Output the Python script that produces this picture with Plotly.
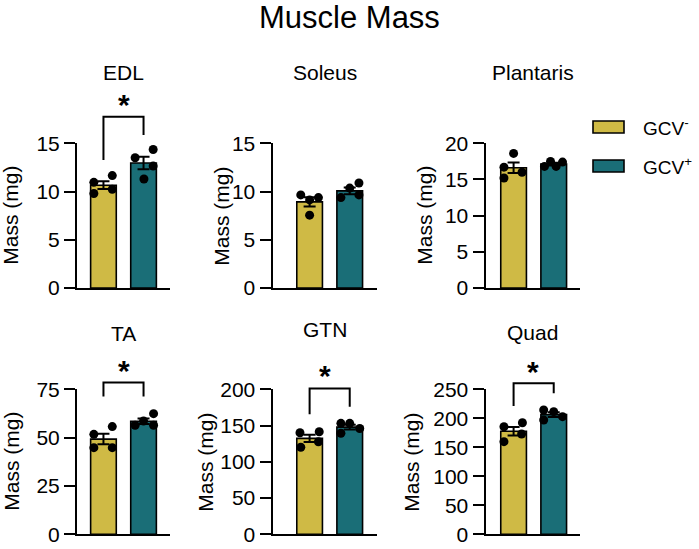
import numpy as np
import plotly.graph_objects as go

W, H = 699, 549

groups = ["GCV<sup>-</sup>", "GCV<sup>+</sup>"]
muscles = ["EDL", "Soleus", "Plantaris", "TA", "GTN", "Quad"]

# muscle mass per mouse (mg)
edl_neg = [10.95, 11.65, 10.24, 9.79]
edl_pos = [13.5, 14.36, 12.64, 11.3]
soleus_neg = [9.65, 9.13, 9.37, 7.55]
soleus_pos = [9.37, 10.36, 10.88, 9.65]
plantaris_neg = [18.6, 16.7, 16.0, 15.2]
plantaris_pos = [16.8, 17.5, 16.8, 17.4]
ta_neg = [51.7, 55.7, 44.8, 44.8]
ta_pos = [56.4, 58.6, 62.4, 56.4]
gtn_neg = [140, 141.5, 127.7, 120]
gtn_pos = [153, 153, 146, 139.3]
quad_neg = [185.5, 192.4, 173, 159.7]
quad_pos = [214.3, 211.4, 202.8, 197]

y_max = [15, 15, 20, 75, 200, 250]
y_step = [5, 5, 5, 25, 50, 50]
signif = [True, False, False, True, True, True]

data = [(edl_neg, edl_pos), (soleus_neg, soleus_pos), (plantaris_neg, plantaris_pos),
        (ta_neg, ta_pos), (gtn_neg, gtn_pos), (quad_neg, quad_pos)]

# --- styling ---
YEL = "#CFBA45"
TEAL = "#1A6E77"
FONT = "Liberation Sans, Arial, sans-serif"

# horizontal scatter of the dots (fraction of bar spacing)
jitter = [
    ([-0.24, 0.22, 0.22, -0.24], [-0.21, 0.24, 0.24, 0.01]),
    ([-0.22, 0, 0.22, 0], [-0.22, 0, 0.23, 0.23]),
    ([0, -0.24, 0.21, -0.24], [-0.23, -0.08, 0.06, 0.22]),
    ([-0.24, 0.22, -0.24, 0.22], [-0.21, 0, 0.25, 0.25]),
    ([-0.24, 0.24, 0.22, -0.22], [-0.22, 0, 0.25, -0.22]),
    ([-0.24, 0.22, 0.2, -0.24], [-0.25, 0, 0.22, -0.25]),
]
# bracket: top, left leg end, right leg end, star height (data units)
brackets = [(17.75, 13.26, 15.87, 19.3), None, None,
            (78.5, 71.3, 71.3, 86.1), (201, 165.5, 176, 222.5), (260.5, 221, 243, 286.5)]

col_px = [(77, 170), (272.5, 377), (485.5, 580)]
col_rng = [(-0.66, 1.66), (-0.925, 1.68), (-0.7, 1.655)]
row_dom = [(0.4754, 0.7390), (0.0268, 0.2909)]
title_py = [73, 73, 73, 333, 329, 332]
ytitle_px = [11, 222, 425, 12, 206, 412]

fig = go.Figure()
annotations = []
shapes = []

for i in range(6):
    row, col = divmod(i, 3)
    ax = "" if i == 0 else str(i + 1)
    neg, pos = data[i]
    for g, (vals, color, jit) in enumerate(zip((neg, pos), (YEL, TEAL), jitter[i])):
        vals = np.array(vals)
        sem = vals.std(ddof=1) / np.sqrt(len(vals))
        fig.add_trace(go.Bar(
            x=[g], y=[vals.mean()], width=0.64, name=groups[g],
            marker=dict(color=color, line=dict(color="black", width=1.6)),
            error_y=dict(type="data", array=[sem], color="black", thickness=2, width=6),
            xaxis="x" + ax, yaxis="y" + ax, showlegend=False,
        ))
        fig.add_trace(go.Scatter(
            x=g + np.array(jit), y=vals, mode="markers",
            marker=dict(color="black", size=9), cliponaxis=False,
            xaxis="x" + ax, yaxis="y" + ax, showlegend=False,
        ))

    x0, x1 = col_px[col]
    fig.layout["xaxis" + ax] = dict(
        domain=[x0 / W, x1 / W], range=list(col_rng[col]), anchor="y" + ax,
        showline=True, linecolor="black", linewidth=2, showticklabels=False,
        ticks="", showgrid=False, zeroline=False, fixedrange=True, automargin=False)
    fig.layout["yaxis" + ax] = dict(
        domain=list(row_dom[row]), range=[0, y_max[i]], dtick=y_step[i], anchor="x" + ax,
        showline=True, linecolor="black", linewidth=2, ticks="outside", ticklen=11,
        tickwidth=2, tickcolor="black", showgrid=False, zeroline=False,
        tickfont=dict(size=21, color="black", family=FONT), fixedrange=True, automargin=False)

    # panel title and y title
    annotations.append(dict(x=0.5, xref="x" + ax + " domain", y=1 - title_py[i] / H, yref="paper",
                            xanchor="center", yanchor="middle",
                            text=muscles[i], showarrow=False, font=dict(size=21)))
    annotations.append(dict(x=ytitle_px[i] / W, xref="paper", y=sum(row_dom[row]) / 2, yref="paper",
                            xanchor="center", yanchor="middle",
                            text="Mass (mg)", textangle=-90, showarrow=False, font=dict(size=21)))

    if signif[i]:
        top, l_end, r_end, star = brackets[i]
        r0, r1 = col_rng[col]
        fx = lambda v: (v - r0) / (r1 - r0)
        fy = lambda v: v / y_max[i]
        pts = [(0, l_end), (0, top), (1, top), (1, r_end)]
        path = "M " + " L ".join(f"{fx(a):.4f},{fy(b):.4f}" for a, b in pts)
        shapes.append(dict(type="path", path=path, xref="x" + ax + " domain",
                           yref="y" + ax + " domain", line=dict(color="black", width=2)))
        annotations.append(dict(x=0.5, xref="x" + ax + " domain", y=fy(star), yref="y" + ax + " domain",
                                xanchor="center", yanchor="middle",
                                text="<b>*</b>", showarrow=False, yshift=-3,
                                font=dict(size=30, color="black")))

# legend drawn as boxes + labels
for g, (color, yc) in enumerate(zip((YEL, TEAL), (127, 166))):
    shapes.append(dict(type="rect", xref="paper", yref="paper",
                       x0=593 / W, x1=624 / W, y0=1 - (yc - 6) / H, y1=1 - (yc + 6) / H,
                       fillcolor=color, line=dict(color="black", width=1.6)))
    annotations.append(dict(x=641 / W, xref="paper", y=1 - yc / H, yref="paper",
                            xanchor="left", yanchor="middle",
                            text=groups[g], showarrow=False, font=dict(size=19)))

annotations.append(dict(x=0.5, xref="paper", y=1 - 17 / H, yref="paper", text="Muscle Mass",
                        xanchor="center", yanchor="middle",
                        showarrow=False, font=dict(size=31)))

fig.update_layout(
    width=W, height=H, margin=dict(l=0, r=0, t=0, b=0, autoexpand=False),
    paper_bgcolor="white", plot_bgcolor="white",
    font=dict(family=FONT, color="black"),
    annotations=annotations, shapes=shapes, barmode="overlay",
)

# the page's default body margin would push the fixed-size figure off the window
fig.write_html("out.html", config={"displayModeBar": False},
               post_script="document.body.style.margin='0';")
